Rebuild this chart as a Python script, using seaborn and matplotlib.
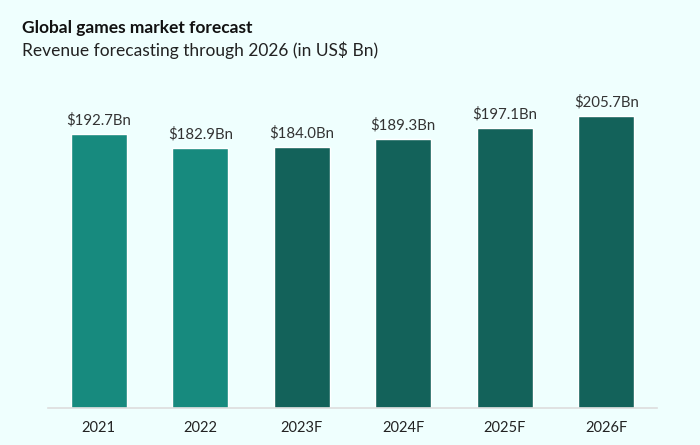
import matplotlib
matplotlib.use('Agg')
import matplotlib.pyplot as plt
import seaborn as sns
import pandas as pd

years = ['2021', '2022', '2023F', '2024F', '2025F', '2026F']
revenue = [192.7, 182.9, 184.0, 189.3, 197.1, 205.7]
labels = ['$192.7Bn', '$182.9Bn', '$184.0Bn', '$189.3Bn', '$197.1Bn', '$205.7Bn']
bar_colors = ['#178a7e', '#178a7e', '#13625a', '#13625a', '#13625a', '#13625a']

bg = '#effffe'

sns.set_theme(style='white')
plt.rcParams['font.family'] = ['Lato', 'DejaVu Sans']

df = pd.DataFrame({'year': years, 'revenue': revenue})

fig = plt.figure(figsize=(7, 4.45), dpi=100, facecolor=bg)
ax = fig.add_axes([0.0686, 0.0831, 0.87, 0.715])
ax.set_facecolor(bg)

sns.barplot(data=df, x='year', y='revenue', hue='year', palette=bar_colors,
            width=0.55, legend=False, ax=ax, saturation=1)

for i, v in enumerate(revenue):
    ax.text(i, v + 4.5, labels[i], ha='center', va='bottom', fontsize=10.8, color='#333333')

ax.set_xlim(-0.5, 5.5)
ax.set_ylim(0, 224)
ax.set_yticks([])
ax.set_xlabel('')
ax.set_ylabel('')
for s in ['top', 'right', 'left']:
    ax.spines[s].set_visible(False)
ax.spines['bottom'].set_color('#dddddd')
ax.spines['bottom'].set_linewidth(1.2)
ax.tick_params(axis='x', length=0, pad=9, labelsize=10.5, colors='#222222')

fig.text(0.031, 0.937, 'Global games market forecast', fontsize=12.5, fontweight='bold',
         color='#111111', va='center')
fig.text(0.031, 0.887, 'Revenue forecasting through 2026 (in US$ Bn)', fontsize=12.5,
         color='#222222', va='center')

fig.savefig('out.png', dpi=100, facecolor=bg)
